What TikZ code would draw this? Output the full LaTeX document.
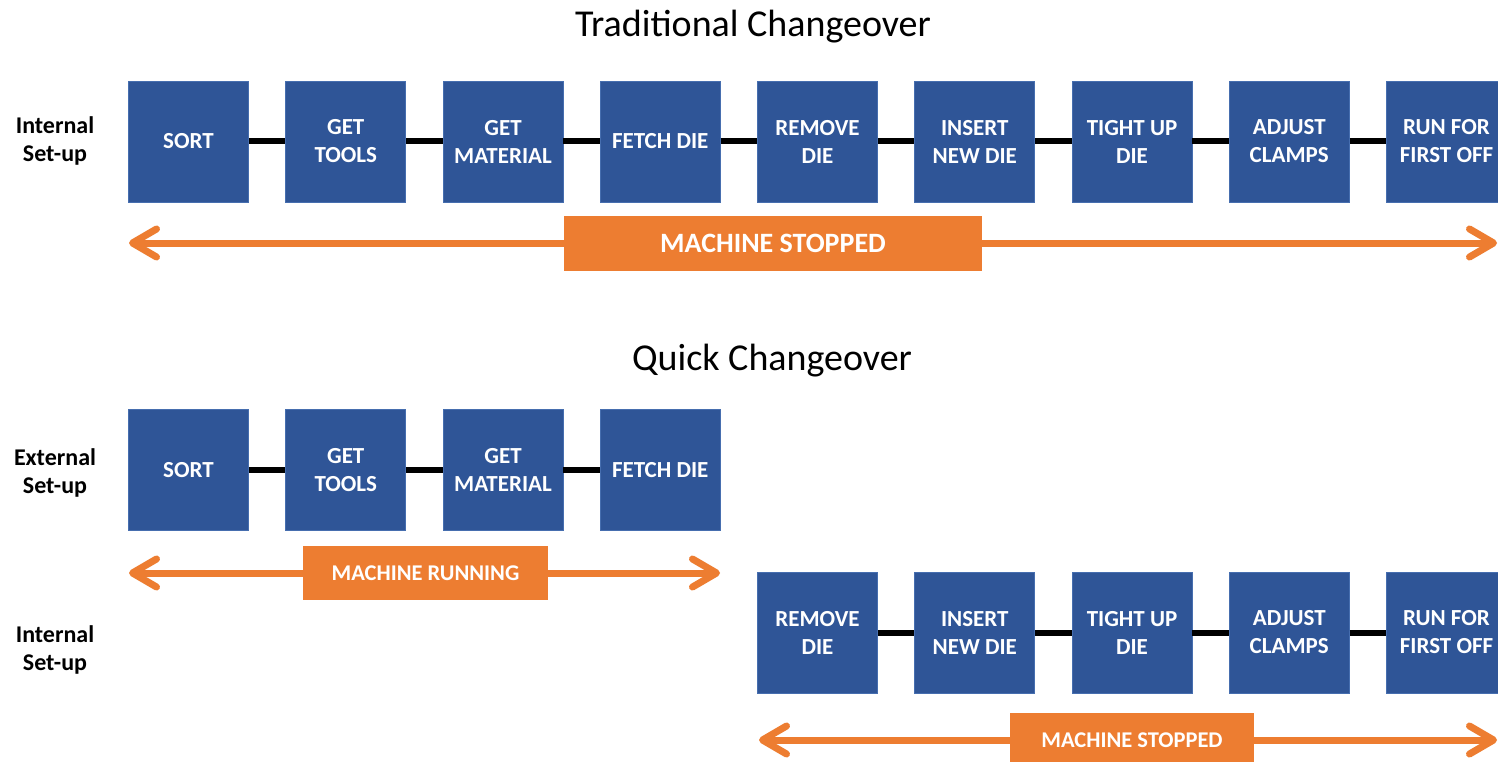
\documentclass[tikz,border=0pt]{standalone}
\usepackage{fontspec}
\setmainfont{Carlito}
\usetikzlibrary{arrows.meta}
\definecolor{stepblue}{RGB}{47,85,151}
\definecolor{stepedge}{RGB}{70,110,175}
\definecolor{flowor}{RGB}{237,125,49}
\begin{document}
\begin{tikzpicture}[x=1pt,y=-1pt,
  stepbox/.style={fill=stepblue,draw=stepedge,line width=0.6pt,minimum width=120pt,minimum height=121pt,
    inner sep=0pt,text=white,align=center,font=\bfseries\fontsize{23}{28}\selectfont},
  link/.style={line width=6pt,black},
  flow/.style={line width=7pt,flowor,{Straight Barb[length=24pt,width=28pt,round]}-{Straight Barb[length=24pt,width=28pt,round]}},
  tag/.style={fill=flowor,text=white,inner sep=0pt,font=\bfseries},
  side/.style={align=center,font=\bfseries\fontsize{24}{28}\selectfont},
  heading/.style={font=\fontsize{38}{42}\selectfont}]
\useasboundingbox (0,0) rectangle (1498,762);
\clip (0,0) rectangle (1498,762);
\fill[white] (0,0) rectangle (1498,762);

% Traditional changeover
\node[heading] (t1) at (753,27) {Traditional Changeover};
\node[side] (s1) at (55,141) {Internal\\Set-up};
\foreach \i/\txt in {1/SORT,2/GET\\TOOLS,3/GET\\MATERIAL,4/FETCH DIE,5/REMOVE\\DIE,
    6/INSERT\\NEW DIE,7/TIGHT UP\\DIE,8/ADJUST\\CLAMPS,9/RUN FOR\\FIRST OFF}
  \node[stepbox] (a\i) at ({188.5+157.25*(\i-1)},141.5) {\txt};
\foreach \i [evaluate=\i as \j using int(\i+1)] in {1,...,8}
  \draw[link] (a\i.east) -- (a\j.west);
\coordinate (al) at (129,243);
\coordinate (ar) at (1497,243);
\draw[flow] (al) -- (ar);
\node[tag,minimum width=418pt,minimum height=55pt,font=\bfseries\fontsize{28}{30}\selectfont] (m1) at (773,243.5) {MACHINE STOPPED};

% Quick changeover
\node[heading] (t2) at (772,361) {Quick Changeover};
\node[side] (s2) at (55,473) {External\\Set-up};
\node[side] (s3) at (55,650) {Internal\\Set-up};
\foreach \i/\txt in {1/SORT,2/GET\\TOOLS,3/GET\\MATERIAL,4/FETCH DIE}
  \node[stepbox] (b\i) at ({188.5+157.25*(\i-1)},470) {\txt};
\foreach \i [evaluate=\i as \j using int(\i+1)] in {1,...,3}
  \draw[link] (b\i.east) -- (b\j.west);
\coordinate (bl) at (129,573);
\coordinate (br) at (720,573);
\draw[flow] (bl) -- (br);
\node[tag,minimum width=245pt,minimum height=54pt,font=\bfseries\fontsize{22.5}{26}\selectfont] (m2) at (425.5,573) {MACHINE RUNNING};

\foreach \i/\txt in {5/REMOVE\\DIE,6/INSERT\\NEW DIE,7/TIGHT UP\\DIE,8/ADJUST\\CLAMPS,9/RUN FOR\\FIRST OFF}
  \node[stepbox] (c\i) at ({188.5+157.25*(\i-1)},632.5) {\txt};
\foreach \i [evaluate=\i as \j using int(\i+1)] in {5,...,8}
  \draw[link] (c\i.east) -- (c\j.west);
\coordinate (cl) at (759,740);
\coordinate (cr) at (1497,740);
\draw[flow] (cl) -- (cr);
\node[tag,minimum width=244pt,minimum height=54pt,font=\bfseries\fontsize{22.5}{26}\selectfont] (m3) at (1132,740) {MACHINE STOPPED};
\end{tikzpicture}
\end{document}
